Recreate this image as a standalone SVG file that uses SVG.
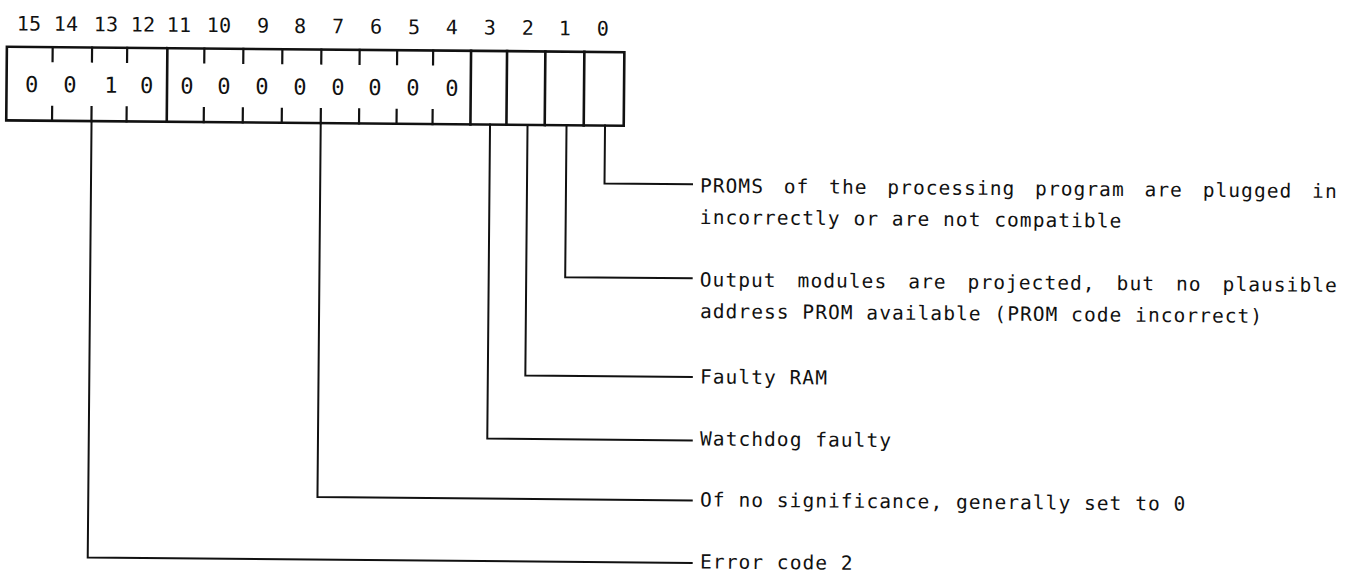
<svg xmlns="http://www.w3.org/2000/svg" width="1353" height="575" viewBox="0 0 1353 575">
<style>
.ln{fill:none;stroke:#111;stroke-linecap:square}
.box{stroke-width:2.6}
.tk{stroke-width:2.2}
.ld{stroke-width:2}
.lbl{font-family:"DejaVu Sans Mono","Liberation Mono",monospace;font-size:20px;fill:#111;text-anchor:middle}
.dig{font-family:"DejaVu Sans Mono","Liberation Mono",monospace;font-size:22px;fill:#111;text-anchor:middle}
.txt{font-family:"DejaVu Sans Mono","Liberation Mono",monospace;font-size:19.5px;letter-spacing:1.06px;fill:#111}
</style>
<rect width="1353" height="575" fill="#fff"/>
<g transform="rotate(0.5 650 300)">
<g id="bit-numbers">
<text class="lbl" x="26.6" y="36">15</text>
<text class="lbl" x="63.6" y="36">14</text>
<text class="lbl" x="103.6" y="36">13</text>
<text class="lbl" x="140.6" y="36">12</text>
<text class="lbl" x="176.6" y="36">11</text>
<text class="lbl" x="216.6" y="36">10</text>
<text class="lbl" x="260.6" y="36">9</text>
<text class="lbl" x="297.6" y="36">8</text>
<text class="lbl" x="335.6" y="36">7</text>
<text class="lbl" x="373.6" y="36">6</text>
<text class="lbl" x="411.6" y="36">5</text>
<text class="lbl" x="449.6" y="36">4</text>
<text class="lbl" x="487.6" y="36">3</text>
<text class="lbl" x="525.6" y="36">2</text>
<text class="lbl" x="562.6" y="36">1</text>
<text class="lbl" x="600.6" y="36">0</text>
</g>
<g id="register">
<rect class="ln box" x="4.7" y="52.4" width="617.5" height="73.6"/>
<path class="ln box" d="M165.2,52.4V126 M468.9,52.4V126 M504.9,52.4V126 M543.2,52.4V126 M582.2,52.4V126"/>
<path class="ln tk" d="M50.5,52.4v14 M89.9,52.4v14 M125,52.4v14 M202.2,52.4v14 M241.2,52.4v14 M280.2,52.4v14 M319.2,52.4v14 M357.5,52.4v14 M395,52.4v14 M431,52.4v14
M50.5,126v-14 M89.9,126v-14 M125,126v-14 M202.2,126v-14 M241.2,126v-14 M280.2,126v-14 M319.2,126v-14 M357.5,126v-14 M395,126v-14 M431,126v-14"/>
<text class="dig" x="29.9" y="97.5">0</text>
<text class="dig" x="68.2" y="97.5">0</text>
<text class="dig" x="109.2" y="97.5">1</text>
<text class="dig" x="144.9" y="97.5">0</text>
<text class="dig" x="185.2" y="97.5">0</text>
<text class="dig" x="222.2" y="97.5">0</text>
<text class="dig" x="260.2" y="97.5">0</text>
<text class="dig" x="298.2" y="97.5">0</text>
<text class="dig" x="336.2" y="97.5">0</text>
<text class="dig" x="373.2" y="97.5">0</text>
<text class="dig" x="411.2" y="97.5">0</text>
<text class="dig" x="450.2" y="97.5">0</text>
</g>
<g id="connectors">
<path class="ln ld" d="M603.5,126V184H691"/>
<path class="ln ld" d="M565,126V278H691.5"/>
<path class="ln ld" d="M526,126V376.5H692.5"/>
<path class="ln ld" d="M488.5,126V440H693"/>
<path class="ln ld" d="M319.2,126V500H693.5"/>
<path class="ln ld" d="M90,126V562.5H694"/>
</g>
<g id="desc-bit0">
<text class="txt" y="192"><tspan x="699">PROMS</tspan> <tspan x="782.8">of</tspan> <tspan x="828.2">the</tspan> <tspan x="886.4">processing</tspan> <tspan x="1034.2">program</tspan> <tspan x="1143.6">are</tspan> <tspan x="1201.8">plugged</tspan> <tspan x="1311.2">in</tspan></text>
<text class="txt" x="699.2" y="223.5">incorrectly or are not compatible</text>
</g>
<g id="desc-bit1">
<text class="txt" y="286"><tspan x="699.7">Output</tspan> <tspan x="797.5">modules</tspan> <tspan x="908.1">are</tspan> <tspan x="967.5">projected,</tspan> <tspan x="1116.5">but</tspan> <tspan x="1175.9">no</tspan> <tspan x="1222.5">plausible</tspan></text>
<text class="txt" x="700.1" y="317.5">address PROM available (PROM code incorrect)</text>
</g>
<g id="desc-bit2">
<text class="txt" x="700.7" y="383">Faulty RAM</text>
</g>
<g id="desc-bit3">
<text class="txt" x="701.3" y="445">Watchdog faulty</text>
</g>
<g id="desc-bits4-11">
<text class="txt" x="701.8" y="506">Of no significance, generally set to 0</text>
</g>
<g id="desc-bits12-15">
<text class="txt" x="702.4" y="568">Error code 2</text>
</g>
</g>
</svg>
